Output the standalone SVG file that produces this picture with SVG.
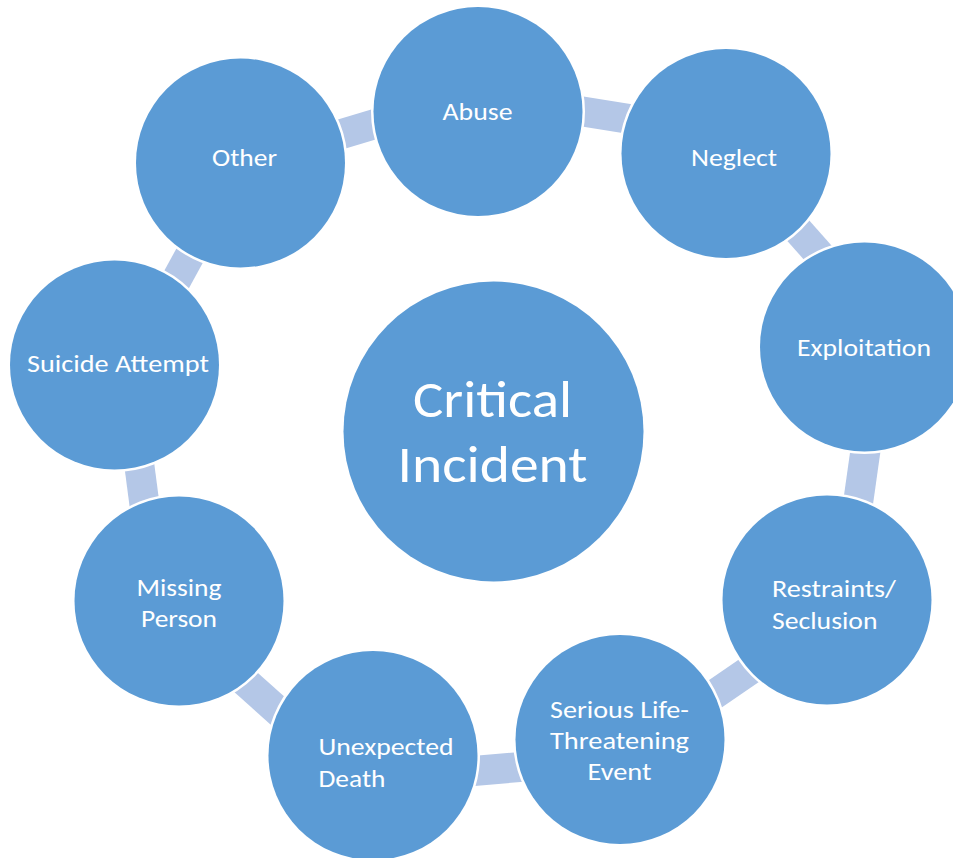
<svg xmlns="http://www.w3.org/2000/svg" width="953" height="858" viewBox="0 0 953 858">
<style>
.node{fill:#5b9bd5;stroke:#ffffff;stroke-width:5;paint-order:stroke}
.conn{stroke:#b4c7e7;stroke-width:30;fill:none;stroke-linecap:butt}
.t{font-family:Carlito,Lato,"Liberation Sans",sans-serif;font-size:25.5px;fill:#ffffff}
.big{font-family:Carlito,Lato,"Liberation Sans",sans-serif;font-size:51px;fill:#ffffff}
</style>
<rect width="953" height="858" fill="#ffffff"/>
<g id="connectors">
<line class="conn" x1="323" y1="139.6" x2="393" y2="118.7"/>
<line class="conn" x1="564" y1="108.5" x2="645" y2="121.5"/>
<line class="conn" x1="785" y1="215.7" x2="832" y2="268.7"/>
<line class="conn" x1="868" y1="432.5" x2="856" y2="517.5"/>
<line class="conn" x1="766" y1="659" x2="699" y2="705"/>
<line class="conn" x1="459" y1="772.2" x2="538" y2="765.5"/>
<line class="conn" x1="230" y1="668" x2="293" y2="724.5"/>
<line class="conn" x1="137" y1="447.5" x2="146.5" y2="520"/>
<line class="conn" x1="199" y1="238.5" x2="167" y2="297"/>
</g>
<g id="critical-incident">
<circle class="node" cx="493.5" cy="431.5" r="150" stroke-width="0"/>
<text class="big" x="413" y="416.7" textLength="159" lengthAdjust="spacingAndGlyphs">Critical</text>
<text class="big" x="397.5" y="481.7" textLength="190" lengthAdjust="spacingAndGlyphs">Incident</text>
</g>
<g id="abuse">
<circle class="node" cx="478" cy="111.5" r="104.5"/>
<text class="t" x="442.5" y="119.5" textLength="70" lengthAdjust="spacingAndGlyphs">Abuse</text>
</g>
<g id="neglect">
<circle class="node" cx="726" cy="153.5" r="104.5"/>
<text class="t" x="691" y="165.7" textLength="86" lengthAdjust="spacingAndGlyphs">Neglect</text>
</g>
<g id="exploitation">
<circle class="node" cx="864.5" cy="347" r="104.5"/>
<text class="t" x="797" y="356" textLength="134" lengthAdjust="spacingAndGlyphs">Exploitation</text>
</g>
<g id="restraints-seclusion">
<circle class="node" cx="827" cy="600" r="104.5"/>
<text class="t" x="772" y="597" textLength="124" lengthAdjust="spacingAndGlyphs">Restraints/</text>
<text class="t" x="772" y="629" textLength="105.5" lengthAdjust="spacingAndGlyphs">Seclusion</text>
</g>
<g id="serious-life-threatening-event">
<circle class="node" cx="620" cy="739.5" r="104.5"/>
<text class="t" x="550" y="718.3" textLength="139" lengthAdjust="spacingAndGlyphs">Serious Life-</text>
<text class="t" x="550" y="749" textLength="139" lengthAdjust="spacingAndGlyphs">Threatening</text>
<text class="t" x="587.5" y="780" textLength="64" lengthAdjust="spacingAndGlyphs">Event</text>
</g>
<g id="unexpected-death">
<circle class="node" cx="373" cy="755.5" r="104.5"/>
<text class="t" x="318.5" y="755" textLength="135" lengthAdjust="spacingAndGlyphs">Unexpected</text>
<text class="t" x="318.5" y="787" textLength="67" lengthAdjust="spacingAndGlyphs">Death</text>
</g>
<g id="missing-person">
<circle class="node" cx="179" cy="601" r="104.5"/>
<text class="t" x="136.5" y="595.7" textLength="85" lengthAdjust="spacingAndGlyphs">Missing</text>
<text class="t" x="141" y="626.7" textLength="76" lengthAdjust="spacingAndGlyphs">Person</text>
</g>
<g id="suicide-attempt">
<circle class="node" cx="114.5" cy="365" r="104.5"/>
<text class="t" x="27" y="372.3" textLength="182" lengthAdjust="spacingAndGlyphs">Suicide Attempt</text>
</g>
<g id="other">
<circle class="node" cx="240.5" cy="163" r="104.5"/>
<text class="t" x="212" y="165.7" textLength="65" lengthAdjust="spacingAndGlyphs">Other</text>
</g>
</svg>
